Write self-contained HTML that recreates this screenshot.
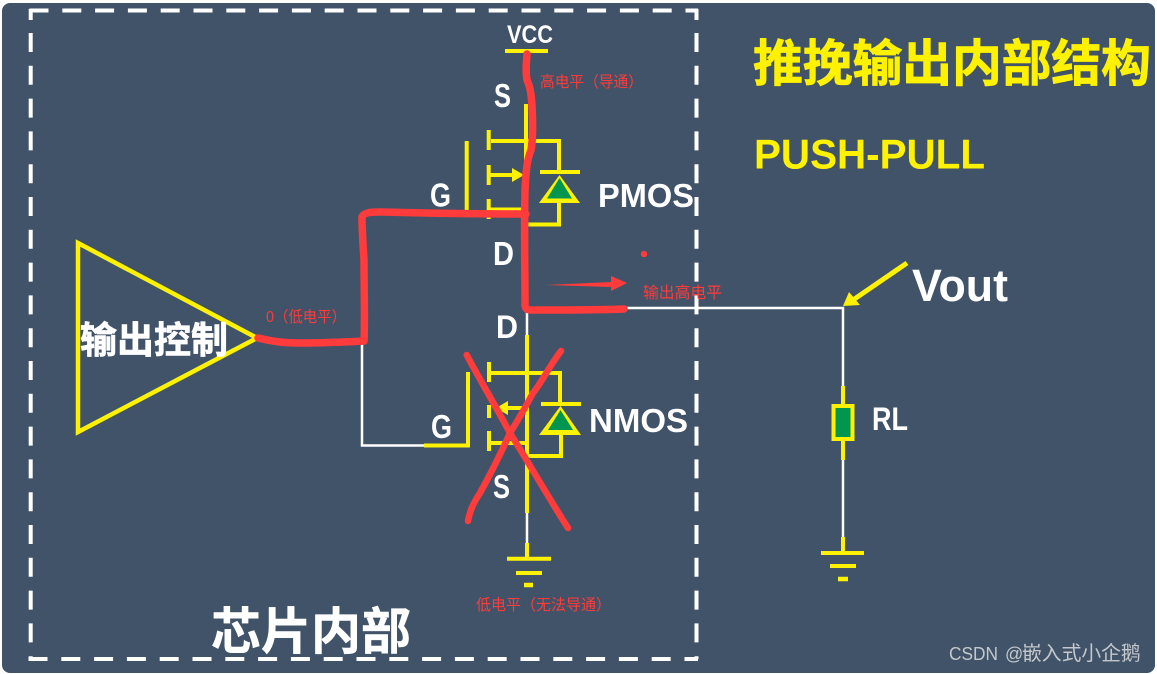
<!DOCTYPE html>
<html><head><meta charset="utf-8">
<style>
html,body{margin:0;padding:0;background:#fff;width:1157px;height:674px;overflow:hidden}
svg{display:block}
.b{font-family:"Liberation Sans","Noto Sans CJK SC",sans-serif;font-weight:bold}
.c{font-family:"Noto Sans CJK SC",sans-serif;font-weight:bold}
.r{font-family:"Liberation Sans","Noto Sans CJK SC",sans-serif;fill:#ff3b3b;font-size:15.5px}
</style></head><body>
<svg width="1157" height="674" viewBox="0 0 1157 674" xmlns="http://www.w3.org/2000/svg">
<rect x="2" y="3" width="1153" height="670" rx="8" fill="#415368"/>
<g fill="none" stroke="#fff" stroke-width="4" stroke-dasharray="19 13.8">
<path d="M29.500 10.500H698"/>
<path d="M696.500 33V659" />
<path d="M30.700 33V659"/>
<path d="M28.500 659H698"/>
</g>
<path d="M30.700 9V20" stroke="#fff" stroke-width="4"/>
<path d="M696.500 9V20" stroke="#fff" stroke-width="4"/>

<!-- white wires -->
<g fill="none" stroke="#fff" stroke-width="2.500">
<path d="M620 308H843V386"/>
<path d="M843 460V537"/>
<path d="M280 341H362V445.500H424"/>
<path d="M527 312V335"/>
<path d="M527 513V543"/>
</g>

<!-- yellow -->
<g fill="none" stroke="#fff200" stroke-width="4">
<path d="M78 243V432L257 338Z" stroke-width="4.500"/>
<path d="M505 51H548" />
<path d="M526 104V225"/>
<path d="M526 141H559V172"/>
<path d="M491 141H526"/>
<path d="M540 172H580"/>
<path d="M559 202V224.500H527"/>
<path d="M488.700 130V150M488.700 165V185M488.700 199V219"/>
<path d="M490 175H512"/>
<path d="M490 209.500H526"/>
<path d="M466.700 141V212"/>
<path d="M527 335V513"/>
<path d="M491 373H560V402"/>
<path d="M541 404H581"/>
<path d="M561 433V456H527"/>
<path d="M489 362V382M489 405V418M489 431V451"/>
<path d="M505 408H527"/>
<path d="M491 443H527"/>
<path d="M424 445.500H468V372"/>
<path d="M527 543V558"/>
<path d="M507 558.700H551M516 573H542"/>
<path d="M524 585H533" stroke-width="4.500"/>
<path d="M843 386V405M843 440V460"/>
<path d="M843 537V553M821 553H864M830 566H856"/>
<path d="M838 579H848" stroke-width="4.500"/>
<path d="M907 263L853 300" stroke-width="5"/>
</g>
<polygon points="512,168 524,175 512,182" fill="#fff200"/>
<polygon points="508,401 496,408 508,415" fill="#fff200"/>
<polygon points="843,306 849,292 860,305" fill="#fff200"/>
<polygon points="559.500,175 539,203 580,203" fill="#fff200"/>
<polygon points="559.500,178 547,198.500 572,198.500" fill="#00964f"/>
<polygon points="560.500,406 539,435 581,435" fill="#fff200"/>
<polygon points="560.500,410 548,430 573,430" fill="#00964f"/>
<rect x="833.500" y="406" width="19" height="33" fill="#00964f" stroke="#fff200" stroke-width="4"/>

<!-- text -->
<g fill="#fff">
<text class="b" x="507" y="43" font-size="25" textLength="46" lengthAdjust="spacingAndGlyphs">VCC</text>
<text class="b" x="494" y="107" font-size="33" textLength="17" lengthAdjust="spacingAndGlyphs">S</text>
<text class="b" x="430" y="206.500" font-size="33" textLength="21" lengthAdjust="spacingAndGlyphs">G</text>
<text class="b" x="598" y="207" font-size="33" textLength="96" lengthAdjust="spacingAndGlyphs">PMOS</text>
<text class="b" x="493" y="265" font-size="33" textLength="21" lengthAdjust="spacingAndGlyphs">D</text>
<text class="b" x="496" y="338" font-size="32" textLength="22" lengthAdjust="spacingAndGlyphs">D</text>
<text class="b" x="431" y="438" font-size="33" textLength="21" lengthAdjust="spacingAndGlyphs">G</text>
<text class="b" x="589" y="432" font-size="33" textLength="99" lengthAdjust="spacingAndGlyphs">NMOS</text>
<text class="b" x="493" y="498" font-size="33" textLength="17" lengthAdjust="spacingAndGlyphs">S</text>
<text class="b" x="912" y="301" font-size="45" textLength="96" lengthAdjust="spacingAndGlyphs">Vout</text>
<text class="b" x="872" y="430" font-size="32" textLength="36" lengthAdjust="spacingAndGlyphs">RL</text>
<text class="c" x="80" y="353" font-size="37" textLength="148" stroke="#fff" stroke-width="0.700">输出控制</text>
<text class="c" x="211" y="649" font-size="50" textLength="200" stroke="#fff" stroke-width="0.500">芯片内部</text>
</g>
<text class="c" x="753" y="81" font-size="50" fill="#fff200" stroke="#fff200" stroke-width="0.700" textLength="398">推挽输出内部结构</text>
<text class="b" x="754" y="168.500" font-size="42" fill="#fff200" textLength="231" lengthAdjust="spacingAndGlyphs">PUSH-PULL</text>

<text class="r" x="540" y="87" textLength="103" lengthAdjust="spacingAndGlyphs">高电平（导通）</text>
<text class="r" x="643" y="298" style="font-size:16px" textLength="79" lengthAdjust="spacingAndGlyphs">输出高电平</text>
<text class="r" x="266" y="322" textLength="80" lengthAdjust="spacingAndGlyphs">0（低电平）</text>
<text class="r" x="476" y="610" textLength="135" lengthAdjust="spacingAndGlyphs">低电平（无法导通）</text>
<g font-family="'Liberation Sans','Noto Sans CJK SC',sans-serif" fill="#c4c8cc">
<text x="949" y="660" font-size="18" textLength="49" lengthAdjust="spacingAndGlyphs">CSDN</text>
<text x="1005" y="660" font-size="18">@</text>
<text x="1022" y="660" font-size="19.800">嵌入式小企鹅</text>
</g>

<!-- red marks -->
<g fill="none" stroke="#ff3b3b" stroke-linecap="round" stroke-linejoin="round">
<path d="M258 338C275 342 285 343 300 343C320 343 345 342 364 341C365 320 364 290 364 260C363 245 362 230 362 217C364 212 372 212 380 212C420 213 480 214 526 214" stroke-width="7.500"/>
<path d="M527 54C526 65 526 75 527 80C530 87 531 92 532 105C533 125 533 140 531 150C527 160 526 170 525 190C524 230 525 270 525 306C526 311 530 310 540 310C570 310 600 310 624 309" stroke-width="7.500"/>
<path d="M466.700 355C480 380 495 405 510 433C530 465 550 500 568 528" stroke-width="6.500"/>
<path d="M561 351C550 365 540 385 533 393C525 408 518 420 510 433C500 455 490 475 480 493C474 502 470 510 468 521" stroke-width="6.500"/>
</g>
<polygon points="546,285 611,282 611,276 627,283 611,291 611,287" fill="#ff3b3b"/>
<circle cx="644" cy="254" r="3.200" fill="#ff3b3b"/>
</svg>
</body></html>
